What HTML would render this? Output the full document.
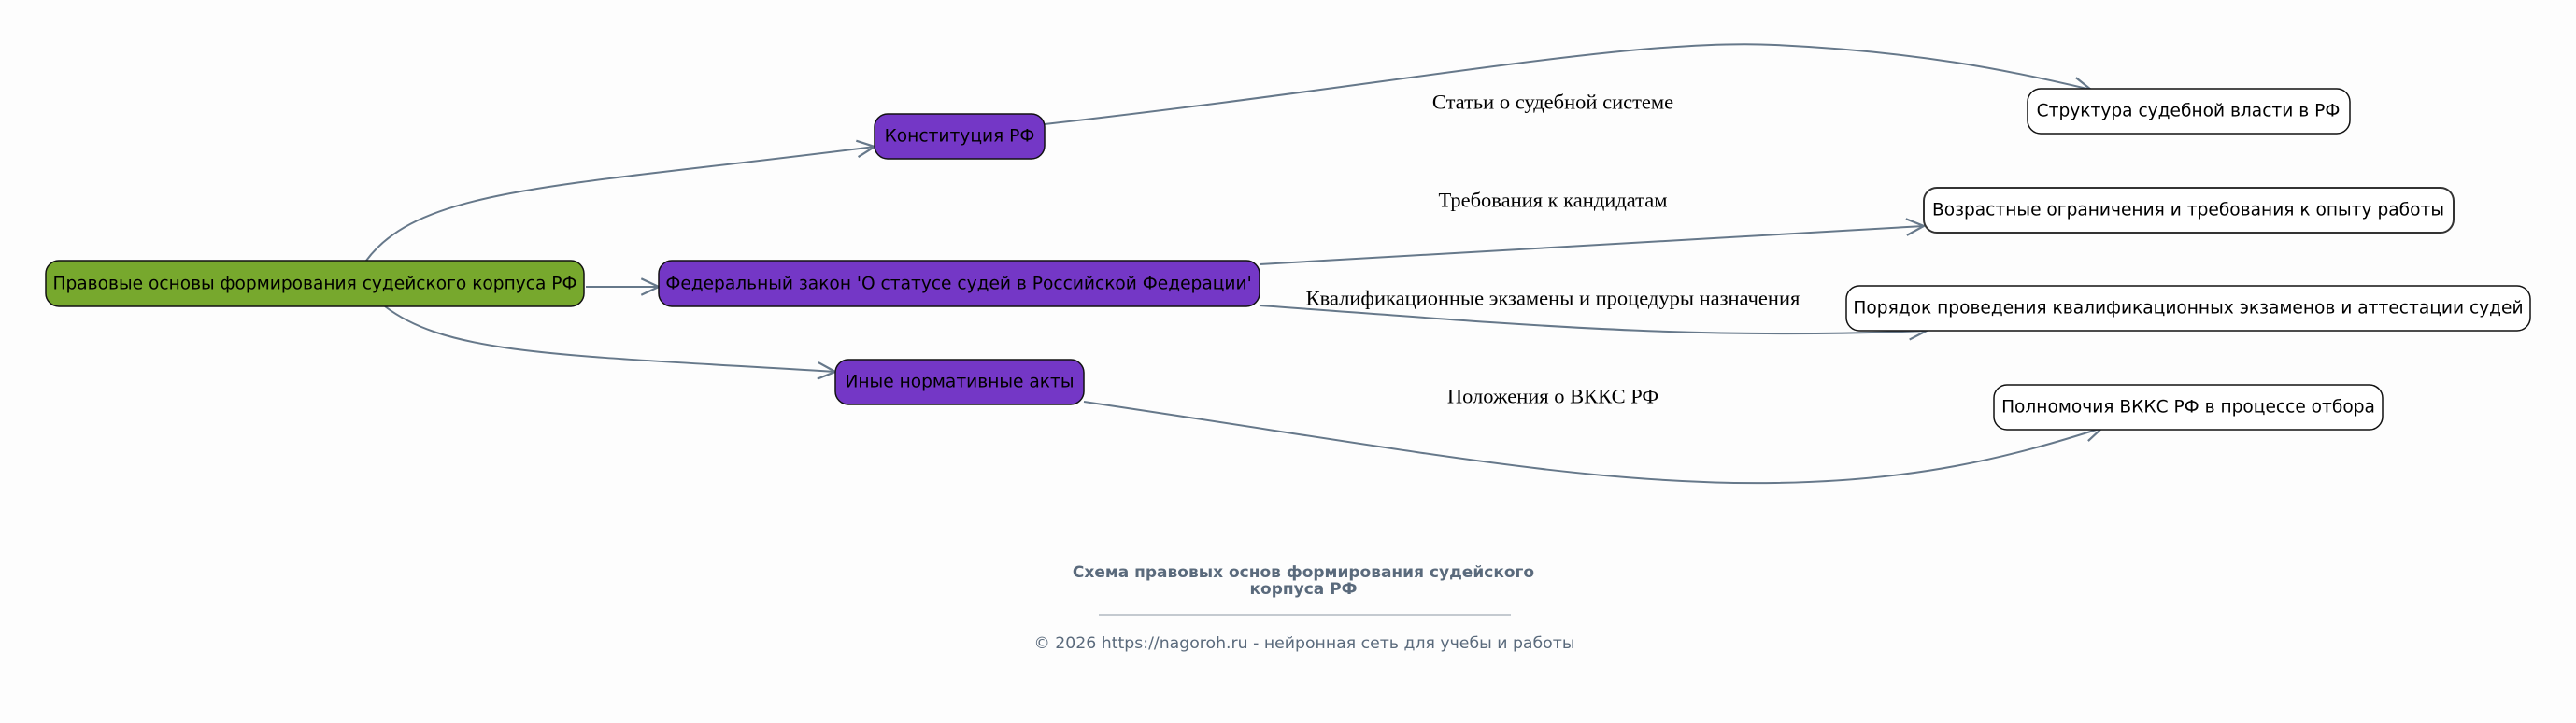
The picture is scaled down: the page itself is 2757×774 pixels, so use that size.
<!DOCTYPE html>
<html><head><meta charset="utf-8"><style>
body{margin:0;background:#fdfdfd;}
svg{display:block}
.n{font-family:"DejaVu Sans","Liberation Sans",sans-serif;font-size:18.6px;fill:#000;text-anchor:middle;dominant-baseline:central}
.l{font-family:"Liberation Serif","DejaVu Serif",serif;font-size:22.5px;fill:#000;text-anchor:middle;dominant-baseline:central}
.e{fill:none;stroke:#66788a;stroke-width:2}
</style></head><body>
<svg width="2757" height="774" viewBox="0 0 2757 774" xmlns="http://www.w3.org/2000/svg">
<defs>
<marker id="b" viewBox="0 0 20 20" refX="19" refY="10" markerWidth="22" markerHeight="22" markerUnits="userSpaceOnUse" orient="auto"><path d="M2,2 L19,10 L2,18" fill="none" stroke="#66788a" stroke-width="2"/></marker></defs>
<path class="e" marker-end="url(#b)" d="M392,279 C450,200 600,200 936,157"/>
<path class="e" marker-end="url(#b)" d="M627,307 L705,307"/>
<path class="e" marker-end="url(#b)" d="M412,328 C480,380 600,380 894,398"/>
<path class="e" marker-end="url(#b)" d="M1118,133 C1500,90 1750,40 1900,48 C2050,55 2150,75 2238,96"/>
<path class="e" marker-end="url(#b)" d="M1348,283 L2059,242"/>
<path class="e" marker-end="url(#b)" d="M1348,327 C1600,345 1800,365 2062,354"/>
<path class="e" marker-end="url(#b)" d="M1160,430 C1500,480 1700,520 1900,517 C2050,515 2150,490 2250,458"/>
<text class="l" x="1662" y="109">Статьи о судебной системе</text>
<text class="l" x="1662" y="214">Требования к кандидатам</text>
<text class="l" x="1662" y="319">Квалификационные экзамены и процедуры назначения</text>
<text class="l" x="1662" y="424">Положения о ВККС РФ</text>
<rect x="49" y="279" width="576" height="49" rx="14" fill="#77a82d" stroke="#111" stroke-width="1.5"/>
<text class="n" x="337" y="304">Правовые основы формирования судейского корпуса РФ</text>
<rect x="936" y="122" width="182" height="48" rx="14" fill="#7437c6" stroke="#111" stroke-width="1.5"/>
<text class="n" x="1027" y="146">Конституция РФ</text>
<rect x="705" y="279" width="643" height="49" rx="14" fill="#7437c6" stroke="#111" stroke-width="1.5"/>
<text class="n" x="1026" y="304">Федеральный закон 'О статусе судей в Российской Федерации'</text>
<rect x="894" y="385" width="266" height="48" rx="14" fill="#7437c6" stroke="#111" stroke-width="1.5"/>
<text class="n" x="1027" y="409">Иные нормативные акты</text>
<rect x="2170" y="95" width="345" height="48" rx="14" fill="#fff" stroke="#111" stroke-width="1.5"/>
<text class="n" x="2342" y="119">Структура судебной власти в РФ</text>
<rect x="2059" y="201" width="567" height="48" rx="14" fill="#fff" stroke="#333" stroke-width="2"/>
<text class="n" x="2342" y="225">Возрастные ограничения и требования к опыту работы</text>
<rect x="1976" y="306" width="732" height="48" rx="14" fill="#fff" stroke="#111" stroke-width="1.5"/>
<text class="n" x="2342" y="330">Порядок проведения квалификационных экзаменов и аттестации судей</text>
<rect x="2134" y="412" width="416" height="48" rx="14" fill="#fff" stroke="#111" stroke-width="1.5"/>
<text class="n" x="2342" y="436">Полномочия ВККС РФ в процессе отбора</text>
<text x="1395" y="613" text-anchor="middle" dominant-baseline="central" font-family="DejaVu Sans,Liberation Sans,sans-serif" font-size="17" font-weight="bold" fill="#5a6a7c">Схема правовых основ формирования судейского</text>
<text x="1395" y="631" text-anchor="middle" dominant-baseline="central" font-family="DejaVu Sans,Liberation Sans,sans-serif" font-size="17" font-weight="bold" fill="#5a6a7c">корпуса РФ</text>
<line x1="1176" y1="658" x2="1617" y2="658" stroke="#8a96a3" stroke-width="1"/>
<text x="1396" y="689" text-anchor="middle" dominant-baseline="central" font-family="DejaVu Sans,Liberation Sans,sans-serif" font-size="17.3" fill="#5a6a7c">© 2026 https://nagoroh.ru - нейронная сеть для учебы и работы</text>
</svg>
</body></html>
